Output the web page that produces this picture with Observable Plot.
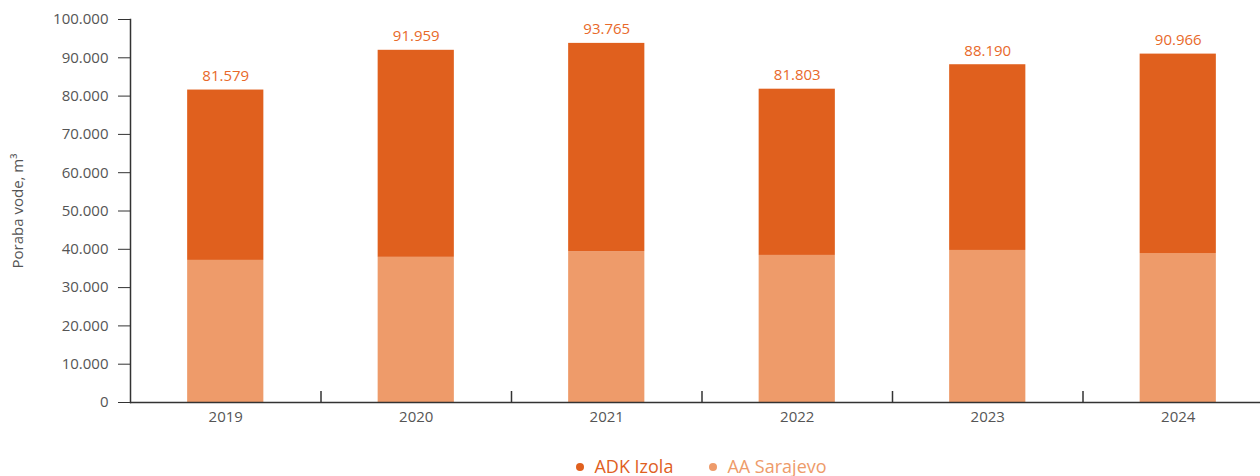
<!DOCTYPE html>
<html>
<head>
<meta charset="utf-8">
<script src="https://cdn.jsdelivr.net/npm/d3@7"></script>
<script src="https://cdn.jsdelivr.net/npm/@observablehq/plot@0.6"></script>
<style>
  html, body { margin: 0; padding: 0; background: #fff; overflow: hidden; }
  body { font-family: "Open Sans", sans-serif; width: 1260px; }
  #legend { margin-left: 130px; width: 1143px; margin-top: 14px; line-height: 24px; text-align: center; font-size: 18px; white-space: nowrap; }
  #legend span.item { display: inline-block; margin: 0 18px; }
  #legend span.dot { display: inline-block; width: 8px; height: 8px; border-radius: 50%; margin-right: 10px; vertical-align: middle; position: relative; top: -1px; }
</style>
</head>
<body>
<div id="chart"></div>
<div id="legend"></div>
<script>
const years = ["2019", "2020", "2021", "2022", "2023", "2024"];
const totals = [81579, 91959, 93765, 81803, 88190, 90966];
const sarajevo = [37100, 37900, 39400, 38400, 39700, 38900];
const seriesNames = ["ADK Izola", "AA Sarajevo"];
const seriesColors = ["#e0601e", "#ee9b6a"];
const yTicks = [0, 10000, 20000, 30000, 40000, 50000, 60000, 70000, 80000, 90000, 100000];

const izola = totals.map((t, i) => t - sarajevo[i]);
const rows = [];
years.forEach((y, i) => rows.push({year: y, series: "AA Sarajevo", value: sarajevo[i]}));
years.forEach((y, i) => rows.push({year: y, series: "ADK Izola", value: izola[i]}));
const totalRows = years.map((y, i) => ({year: y, total: totals[i]}));

const fmt = d => d3.format(",")(d).replace(/,/g, ".");
const xRange = [130, 1273];
const step = (xRange[1] - xRange[0]) / years.length;

const chart = Plot.plot({
  width: 1260,
  height: 440,
  marginTop: 19,
  marginBottom: 38,
  marginLeft: 130,
  marginRight: 0,
  style: {fontFamily: "'Open Sans', sans-serif", fontSize: "15px", color: "#555", background: "#fff"},
  x: {domain: years, range: xRange, paddingInner: 0.6, paddingOuter: 0.3, round: false},
  y: {domain: [0, 100000]},
  color: {domain: seriesNames, range: seriesColors},
  marks: [
    Plot.barY(rows, {x: "year", y: "value", fill: "series", order: ["AA Sarajevo", "ADK Izola"]}),
    Plot.text(totalRows, {x: "year", y: "total", text: d => fmt(d.total), dy: -14, fill: "#e8692a", fontSize: 15}),
    Plot.ruleY([0], {stroke: "#333", strokeWidth: 1.5}),
    Plot.frame({anchor: "left", stroke: "#333", strokeWidth: 1.5}),
    Plot.tickX(years.slice(1), {x: d => d, dx: -step / 2, insetTop: 372, stroke: "#333", strokeWidth: 1.5}),
    Plot.axisY({ticks: yTicks, tickFormat: fmt, tickSize: 12, tickPadding: 10, stroke: "#333", fill: "#555", fontSize: 15,
      label: "Poraba vode, m³", labelAnchor: "center", labelArrow: "none", labelOffset: 118}),
    Plot.axisX({tickSize: 0, tickPadding: 9, label: null, fill: "#555", fontSize: 15})
  ]
});
document.getElementById("chart").appendChild(chart);

const legend = document.getElementById("legend");
seriesNames.forEach((name, i) => {
  const item = document.createElement("span");
  item.className = "item";
  item.style.color = seriesColors[i];
  const dot = document.createElement("span");
  dot.className = "dot";
  dot.style.background = seriesColors[i];
  item.appendChild(dot);
  item.appendChild(document.createTextNode(name));
  legend.appendChild(item);
});
</script>
</body>
</html>
